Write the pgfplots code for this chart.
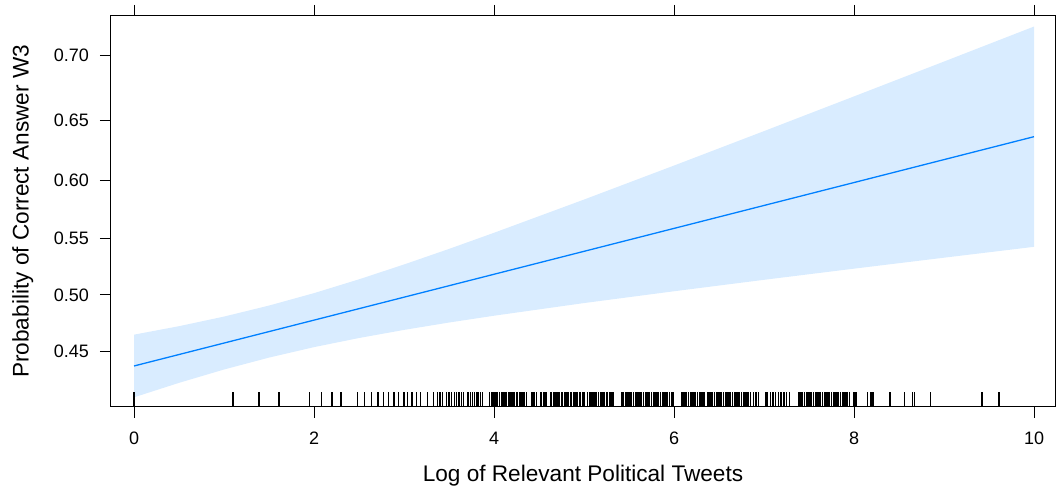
\documentclass[border=0pt]{standalone}
\usepackage{fontspec}
\setmainfont{Liberation Sans}
\usepackage{pgfplots}
\pgfplotsset{compat=1.18}
\usepgfplotslibrary{fillbetween}
\definecolor{bandcol}{RGB}{217,236,255}
\definecolor{linecol}{RGB}{0,128,255}
\begin{document}
\begin{tikzpicture}
\begin{axis}[
  scale only axis,
  width=472pt, height=195.35pt,
  xmin=-0.256, xmax=10.233,
  ymin=-0.3954, ymax=0.9876,
  axis line style={line width=0.5pt},
  every tick/.style={black, line width=0.5pt},
  major tick length=5.5pt,
  tick align=outside,
  xtick={0,2,4,6,8,10},
  xtick pos=both,
  xticklabel pos=lower,
  ytick pos=left,
  ytick={-0.2007,0,0.2007,0.4055,0.6190,0.8473},
  yticklabels={0.45,0.50,0.55,0.60,0.65,0.70},
  /pgf/number format/assume math mode=true,
  tick label style={font=\fontsize{9}{11}\selectfont},
  yticklabel style={xshift=-2pt},
  xticklabel style={yshift=-3.5pt},
  label style={font=\fontsize{11.3}{13}\selectfont},
  xlabel={Log of Relevant Political Tweets},
  ylabel={Probability of Correct Answer W3},
  xlabel style={at={(rel axis cs:0.5,-0.19196)}, anchor=base, inner sep=0pt},
  ylabel style={at={(rel axis cs:-0.08739,0.5)}, anchor=base, inner sep=0pt},
]
\addplot[name path=U, draw=none, forget plot] coordinates {
(0,-0.1404) (0.5,-0.1104) (1,-0.0764) (1.5,-0.0374) (2,0.0066) (2.5,0.0555) (3,0.1080) (3.5,0.1631) (4,0.2202) (5,0.3378)
(6,0.4582) (7,0.5801) (8,0.7030) (9,0.8264) (10,0.9503)};
\addplot[name path=L, draw=none, forget plot] coordinates {
(0,-0.3622) (0.5,-0.3110) (1,-0.2638) (1.5,-0.2216) (2,-0.1846) (2.5,-0.1523) (3,-0.1236) (3.5,-0.0975) (4,-0.0734) (5,-0.0286)
(6,0.0132) (7,0.0537) (8,0.0932) (9,0.1320) (10,0.1705)};
\addplot[bandcol, draw=none] fill between[of=U and L];
\addplot[linecol, line width=0.65pt] coordinates {(0,-0.2513) (10,0.5604)};
\addplot[only marks, mark=|, mark size=3.575pt, mark options={line width=0.7pt, black}]
table[row sep=\\, y expr=-0.3701] {
x\\
0\\ 1.10\\ 1.39\\ 1.61\\ 1.95\\ 2.08\\ 2.20\\ 2.30\\ 2.48\\ 2.56\\ 2.64\\ 2.71\\ 2.77\\ 2.83\\ 2.89\\ 2.94\\ 3.00\\ 3.04\\ 3.09\\ 3.14\\ 3.18\\ 3.26\\
3.33\\ 3.37\\ 3.40\\ 3.43\\ 3.47\\ 3.50\\ 3.53\\ 3.56\\ 3.58\\ 3.61\\ 3.64\\ 3.66\\ 3.71\\ 3.74\\ 3.76\\ 3.78\\ 3.81\\ 3.83\\ 3.85\\ 3.87\\
3.95\\ 3.97\\ 3.99\\ 4.01\\ 4.03\\ 4.04\\ 4.06\\ 4.08\\ 4.09\\ 4.11\\ 4.13\\ 4.14\\ 4.16\\ 4.17\\ 4.19\\ 4.20\\ 4.22\\ 4.23\\ 4.25\\ 4.26\\ 4.28\\ 4.29\\ 4.30\\ 4.32\\ 4.33\\ 4.34\\ 4.36\\
4.42\\ 4.43\\ 4.44\\ 4.45\\ 4.47\\ 4.52\\ 4.53\\ 4.55\\ 4.56\\ 4.57\\ 4.58\\
4.63\\ 4.64\\ 4.66\\ 4.67\\ 4.69\\ 4.70\\ 4.72\\ 4.73\\ 4.75\\ 4.76\\ 4.78\\ 4.80\\ 4.81\\ 4.83\\ 4.85\\ 4.86\\ 4.88\\ 4.90\\ 4.91\\ 4.93\\ 4.95\\ 4.96\\ 4.98\\ 5.00\\
5.04\\ 5.06\\ 5.07\\ 5.09\\ 5.11\\ 5.12\\ 5.14\\ 5.16\\ 5.18\\ 5.19\\ 5.21\\ 5.23\\ 5.25\\ 5.26\\ 5.28\\ 5.30\\ 5.32\\
5.42\\ 5.44\\ 5.46\\ 5.47\\ 5.49\\ 5.51\\ 5.53\\ 5.55\\ 5.57\\ 5.58\\ 5.60\\ 5.62\\ 5.64\\ 5.66\\ 5.68\\ 5.70\\ 5.71\\ 5.73\\ 5.75\\ 5.77\\ 5.79\\ 5.81\\ 5.83\\ 5.85\\ 5.87\\ 5.89\\ 5.91\\ 5.93\\ 5.95\\ 5.97\\ 5.99\\
6.08\\ 6.10\\ 6.12\\ 6.14\\ 6.16\\ 6.18\\ 6.20\\ 6.22\\ 6.24\\ 6.26\\ 6.28\\ 6.30\\ 6.32\\ 6.34\\
6.37\\ 6.39\\ 6.41\\ 6.43\\ 6.45\\ 6.47\\ 6.49\\ 6.51\\ 6.53\\ 6.55\\ 6.57\\ 6.59\\ 6.61\\ 6.63\\ 6.65\\ 6.67\\ 6.69\\ 6.71\\ 6.73\\ 6.75\\ 6.77\\ 6.79\\ 6.81\\ 6.83\\ 6.85\\ 6.88\\ 6.91\\ 6.94\\
7.02\\ 7.04\\ 7.07\\ 7.10\\ 7.13\\ 7.16\\ 7.19\\ 7.22\\ 7.25\\ 7.28\\
7.39\\ 7.41\\ 7.43\\ 7.45\\ 7.47\\ 7.49\\ 7.51\\ 7.53\\ 7.55\\ 7.57\\ 7.59\\ 7.61\\ 7.63\\ 7.65\\ 7.67\\ 7.69\\ 7.71\\ 7.73\\ 7.75\\ 7.77\\ 7.79\\ 7.81\\ 7.83\\ 7.85\\ 7.87\\ 7.89\\ 7.91\\ 7.93\\ 7.95\\
8.00\\ 8.02\\ 8.15\\ 8.19\\ 8.21\\ 8.40\\ 8.56\\ 8.65\\ 8.67\\ 8.85\\ 9.42\\ 9.61\\
};
\end{axis}
\pgfresetboundingbox
\path[use as bounding box] (-55.5pt,-42.15pt) rectangle (473pt,203.35pt);
\end{tikzpicture}
\end{document}
